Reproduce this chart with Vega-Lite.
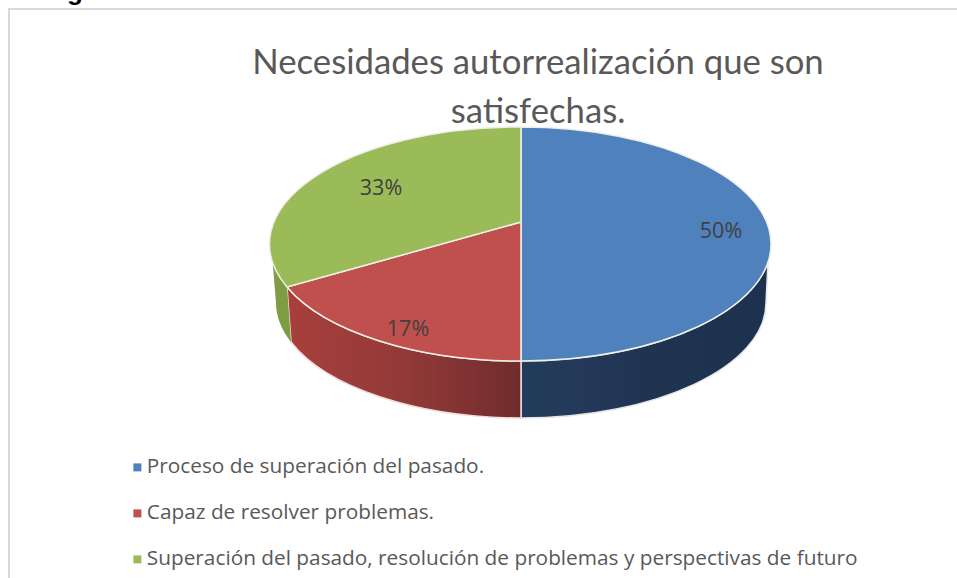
{
  "$schema": "https://vega.github.io/schema/vega-lite/v6.json",
  "width": 950,
  "height": 570,
  "autosize": {"type": "none"},
  "padding": {"left": 9, "top": 9, "right": -2, "bottom": -1},
  "background": "white",
  "view": {"stroke": "#d9d9d9", "strokeWidth": 2, "fill": "white"},
  "title": {
    "text": ["Necesidades autorrealización que son", "satisfechas."],
    "font": "Lato",
    "fontSize": 34.7,
    "fontWeight": "normal",
    "color": "#595959",
    "anchor": "middle",
    "dx": 54,
    "offset": -152,
    "lineHeight": 49
  },
  "datasets": {
    "slices": [
      {"slice": "Proceso de superación del pasado.", "value": 50, "pct": "50%"},
      {"slice": "Capaz de resolver problemas.", "value": 17, "pct": "17%"},
      {"slice": "Superación del pasado, resolución de problemas y perspectivas de futuro", "value": 33, "pct": "33%"}
    ]
  },
  "data": {"name": "slices"},
  "layer": [
    {
      "transform": [{"filter": "datum.value == 50"}],
      "mark": {
        "type": "point", "filled": true, "size": 4, "opacity": 1, "strokeWidth": 1.5, "stroke": "#e6e6e6",
        "shape": "M284,-32 A250,117 0 0 1 37,67 L37,124 A245,115 0 0 0 282,9 Z",
        "fill": {"gradient": "linear", "x1": 0, "x2": 1, "y1": 0, "y2": 0, "stops": [
          {"offset": 0, "color": "#233c5c"}, {"offset": 0.25, "color": "#24395a"}, {"offset": 0.5, "color": "#1f3451"}, {"offset": 1, "color": "#1c314d"}
        ]}
      }
    },
    {
      "transform": [{"filter": "datum.value == 17"}],
      "mark": {
        "type": "point", "filled": true, "size": 4, "opacity": 1, "strokeWidth": 1.5, "stroke": "#f0dcdc",
        "shape": "M37,67 A250,117 0 0 1 -197,-7 L-193,48 A245,115 0 0 0 37,124 Z",
        "fill": {"gradient": "linear", "x1": 0, "x2": 1, "y1": 0, "y2": 0, "stops": [
          {"offset": 0, "color": "#a83f3c"}, {"offset": 0.5, "color": "#923a38"}, {"offset": 1, "color": "#702c2c"}
        ]}
      }
    },
    {
      "transform": [{"filter": "datum.value == 33"}],
      "mark": {
        "type": "point", "filled": true, "size": 4, "opacity": 1, "strokeWidth": 0,
        "shape": "M-212,-40 A250,117 0 0 0 -197,-7 L-193,48 A245,115 0 0 1 -208,9 Z",
        "fill": "#7e9c42"
      }
    },
    {
      "mark": {"type": "point", "filled": true, "size": 4, "opacity": 1, "stroke": "#eef0e8", "strokeWidth": 1.5},
      "encoding": {
        "shape": {
          "field": "value", "type": "nominal", "legend": null,
          "scale": {
            "domain": [50, 17, 33],
            "range": [
              "M37,-72 L37,-167 A250,117 0 0 1 37,67 Z",
              "M37,-72 L37,67 A250,117 0 0 1 -197,-7 Z",
              "M37,-72 L-197,-7 A250,117 0 0 1 37,-167 Z"
            ]
          }
        },
        "color": {
          "field": "slice", "type": "nominal",
          "scale": {
            "domain": ["Proceso de superación del pasado.", "Capaz de resolver problemas.", "Superación del pasado, resolución de problemas y perspectivas de futuro"],
            "range": ["#4f81bd", "#c0504d", "#9bbb59"]
          },
          "legend": {
            "title": null, "orient": "none", "legendX": 118, "legendY": 448,
            "symbolType": "square", "symbolSize": 64, "symbolStrokeWidth": 0, "symbolOpacity": 1,
            "labelFont": "Open Sans", "labelFontSize": 20.8, "labelColor": "#595959", "labelLimit": 800, "labelOffset": -1,
            "rowPadding": 24, "padding": 0
          }
        }
      }
    },
    {
      "transform": [{"filter": "datum.value == 50"}],
      "mark": {"type": "text", "font": "Open Sans", "fontSize": 21.5, "color": "#404040", "dx": 237, "dy": -62},
      "encoding": {"text": {"field": "pct", "type": "nominal"}}
    },
    {
      "transform": [{"filter": "datum.value == 33"}],
      "mark": {"type": "text", "font": "Open Sans", "fontSize": 21.5, "color": "#404040", "dx": -103, "dy": -105},
      "encoding": {"text": {"field": "pct", "type": "nominal"}}
    },
    {
      "transform": [{"filter": "datum.value == 17"}],
      "mark": {"type": "text", "font": "Open Sans", "fontSize": 21.5, "color": "#404040", "dx": -76, "dy": 36},
      "encoding": {"text": {"field": "pct", "type": "nominal"}}
    },
    {
      "data": {"values": [{"caption": "Figura 6. Necesidades autorrealización"}]},
      "mark": {"type": "text", "font": "Liberation Sans", "fontWeight": "bold", "fontSize": 26, "color": "#000000", "align": "left", "baseline": "alphabetic", "dx": -440, "dy": -294},
      "encoding": {"text": {"field": "caption", "type": "nominal"}}
    }
  ],
  "resolve": {"scale": {"shape": "independent", "color": "independent"}}
}
